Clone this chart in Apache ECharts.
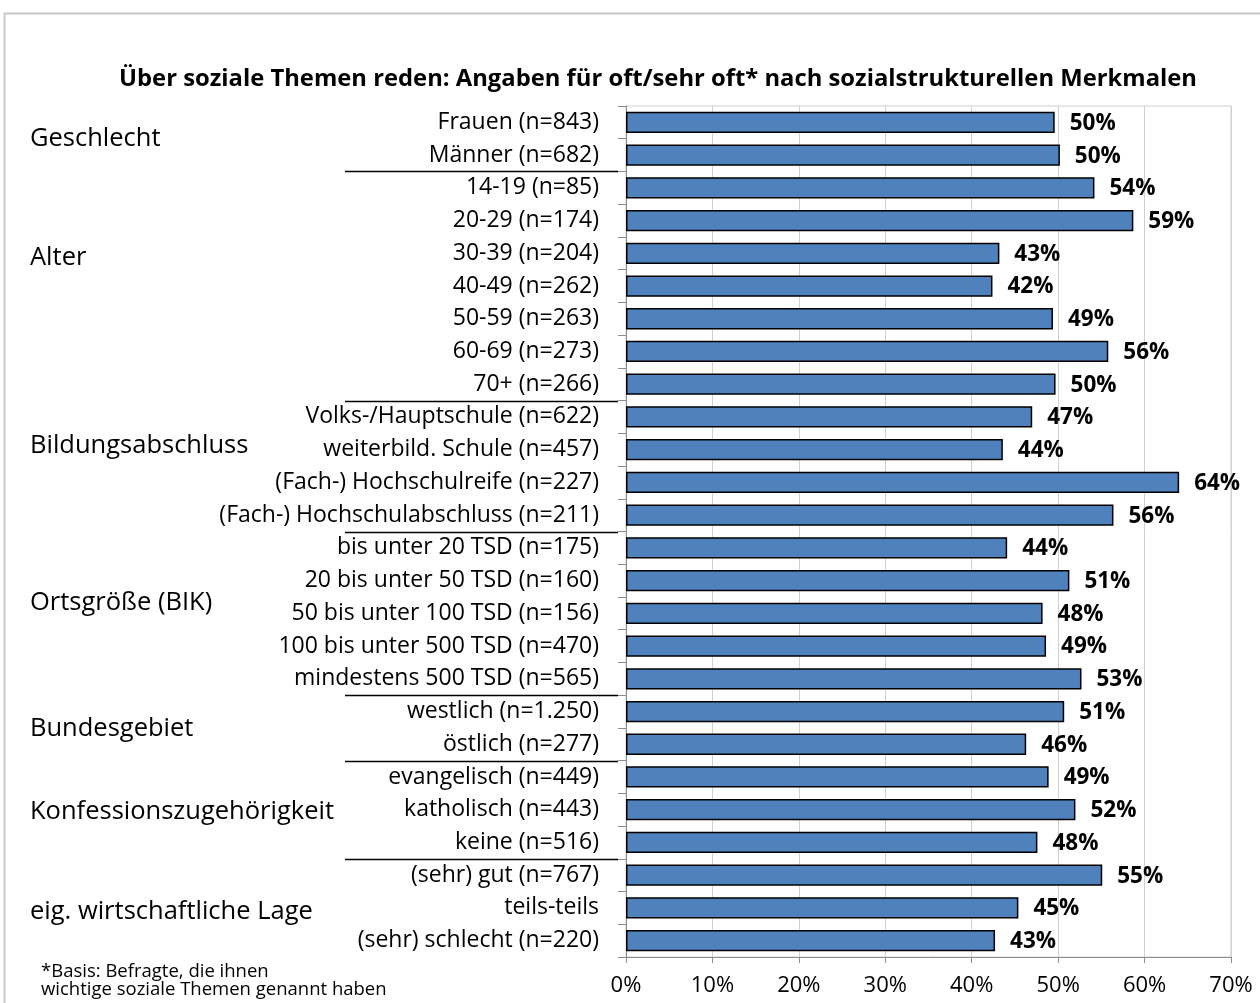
<!DOCTYPE html>
<html>
<head>
<meta charset="utf-8">
<script src="https://cdn.jsdelivr.net/npm/echarts@6/dist/echarts.min.js"></script>
<style>
  html, body { margin: 0; padding: 0; background: #fff; }
  #chart { width: 1260px; height: 1003px; }
</style>
</head>
<body>
<div id="chart"></div>
<script>
// Categories (top to bottom) and share answering "oft/sehr oft" in percent
const categories = [
  'Frauen (n=843)', 'Männer (n=682)',
  '14-19 (n=85)', '20-29 (n=174)', '30-39 (n=204)', '40-49 (n=262)', '50-59 (n=263)', '60-69 (n=273)', '70+ (n=266)',
  'Volks-/Hauptschule (n=622)', 'weiterbild. Schule (n=457)', '(Fach-) Hochschulreife (n=227)', '(Fach-) Hochschulabschluss (n=211)',
  'bis unter 20 TSD (n=175)', '20 bis unter 50 TSD (n=160)', '50 bis unter 100 TSD (n=156)', '100 bis unter 500 TSD (n=470)', 'mindestens 500 TSD (n=565)',
  'westlich (n=1.250)', 'östlich (n=277)',
  'evangelisch (n=449)', 'katholisch (n=443)', 'keine (n=516)',
  '(sehr) gut (n=767)', 'teils-teils', '(sehr) schlecht (n=220)'
];
const values = [
  49.6, 50.2,
  54.2, 58.7, 43.2, 42.4, 49.4, 55.8, 49.7,
  47.0, 43.6, 64.0, 56.4,
  44.1, 51.3, 48.2, 48.6, 52.7,
  50.7, 46.3,
  48.9, 52.0, 47.6,
  55.1, 45.4, 42.7
];
// Group headings with the first category index of each group
const groupNames = ['Geschlecht', 'Alter', 'Bildungsabschluss', 'Ortsgröße (BIK)', 'Bundesgebiet', 'Konfessionszugehörigkeit', 'eig. wirtschaftliche Lage'];
const groupStarts = [0, 2, 9, 13, 18, 20, 23];
// Vertical placement of each heading, in category units (0 = first row centre)
const groupLabelRow = [0.49, 4.13, 9.88, 14.68, 18.53, 21.07, 24.13];
const xTicks = [0, 10, 20, 30, 40, 50, 60, 70];

const FONT = '"Open Sans", "Noto Sans", sans-serif';
const chart = echarts.init(document.getElementById('chart'), null, { renderer: 'canvas' });

const option = {
  backgroundColor: '#ffffff',
  animation: false,
  title: {
    text: 'Über soziale Themen reden: Angaben für oft/sehr oft* nach sozialstrukturellen Merkmalen',
    left: 653, top: 62, textAlign: 'center',
    textStyle: { fontFamily: FONT, fontSize: 23.8, fontWeight: 'bold', color: '#000' }
  },
  grid: {
    left: 626, right: 29, top: 106, bottom: 46,
    show: true, borderColor: '#d0d0d0', borderWidth: 1
  },
  xAxis: {
    type: 'value', min: xTicks[0], max: xTicks[xTicks.length - 1], interval: 10,
    axisLine: { show: true, lineStyle: { color: '#8c8c8c', width: 1 } },
    axisTick: { show: true, length: 6, lineStyle: { color: '#8c8c8c' } },
    axisLabel: { formatter: v => v + '%', fontFamily: FONT, fontSize: 22, color: '#000', margin: 18 },
    splitLine: { show: true, lineStyle: { color: '#d0d0d0', width: 1 } }
  },
  yAxis: {
    type: 'category', data: categories, inverse: true,
    axisLine: { show: true, lineStyle: { color: '#8c8c8c', width: 1 } },
    axisTick: { show: true, length: 8, lineStyle: { color: '#8c8c8c' } },
    axisLabel: { fontFamily: FONT, fontSize: 23, color: '#000', margin: 27 },
    splitLine: { show: false }
  },
  series: [{
    type: 'bar', data: values, barCategoryGap: '35%',
    itemStyle: { color: '#4f81bd', borderColor: '#000', borderWidth: 1.5 },
    label: {
      show: true, position: 'right', distance: 15, offset: [0, 1],
      formatter: p => Math.round(p.value) + '%',
      fontFamily: FONT, fontSize: 22.5, fontWeight: 'bold', color: '#000'
    }
  }]
};
chart.setOption(option);

// Headings, separators between groups, footnote and outer frame
function rowY(i) { return chart.convertToPixel({ yAxisIndex: 0 }, i); }
const band = rowY(1) - rowY(0);
const graphics = [];
graphics.push({
  type: 'rect', shape: { x: 4.5, y: 13.5, width: 1300, height: 1100 },
  style: { fill: null, stroke: '#c8c8c8', lineWidth: 2 }, silent: true, z: -1
});
groupNames.forEach((name, g) => {
  graphics.push({
    type: 'text', x: 30, y: rowY(0) + groupLabelRow[g] * band,
    style: { text: name, font: '25.5px ' + FONT, fill: '#000', textVerticalAlign: 'middle' }
  });
  if (g > 0) {
    const yb = Math.round(rowY(groupStarts[g]) - band / 2) + 0.5;
    graphics.push({
      type: 'line', shape: { x1: 345, y1: yb, x2: 618, y2: yb },
      style: { stroke: '#000', lineWidth: 1.5 }
    });
  }
});
graphics.push({
  type: 'text', x: 41, y: 962,
  style: { text: '*Basis: Befragte, die ihnen\nwichtige soziale Themen genannt haben', font: '18.5px ' + FONT, fill: '#000', lineHeight: 18.5 }
});
chart.setOption({ graphic: graphics });
</script>
</body>
</html>
